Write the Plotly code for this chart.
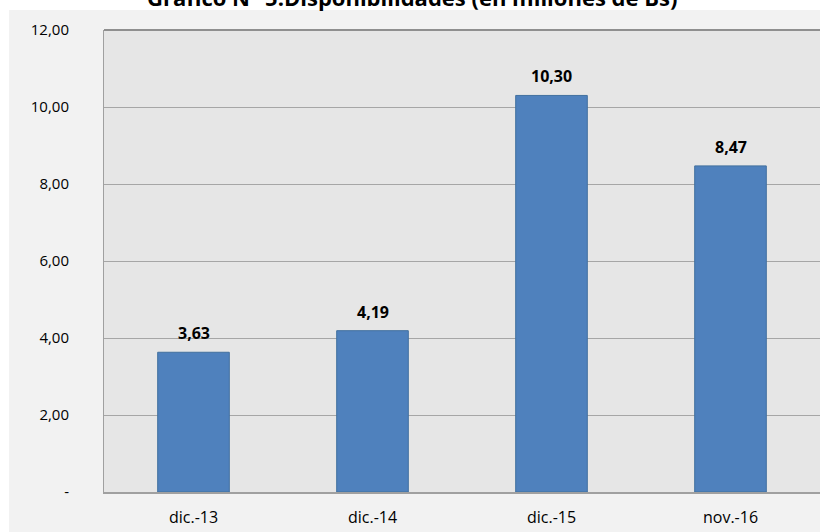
import plotly.graph_objects as go

categories = ["dic.-13", "dic.-14", "dic.-15", "nov.-16"]
values = [3.63, 4.19, 10.30, 8.47]
value_labels = ["3,63", "4,19", "10,30", "8,47"]
tick_vals = [0, 2, 4, 6, 8, 10, 12]
tick_text = ["-", "2,00", "4,00", "6,00", "8,00", "10,00", "12,00"]
title_text = "Gráfico N° 5.Disponibilidades (en millones de Bs)"

font_family = "Open Sans, Noto Sans, sans-serif"

W, H = 825, 532
L, R, T, B = 104, 5, 30, 40
pw = W - L - R
ph = H - T - B


def px_x(px):
    return (px - L) / pw


def px_y(py):
    return (H - B - py) / ph


fig = go.Figure()
fig.add_trace(go.Bar(
    x=categories,
    y=values,
    marker=dict(color="#4f81bd", line=dict(color="#41709f", width=1)),
    width=0.4,
    hoverinfo="skip",
))

annotations = [
    dict(
        x=c, y=v, xref="x", yref="y", text="<b>" + t + "</b>",
        showarrow=False, yanchor="middle", yshift=19,
        font=dict(family=font_family, size=16, color="#000000"),
    )
    for c, v, t in zip(categories, values, value_labels)
]
annotations.append(dict(
    text="<b>" + title_text + "</b>",
    xref="paper", yref="paper",
    x=px_x(412), y=px_y(-3),
    xanchor="center", yanchor="middle",
    showarrow=False,
    font=dict(family=font_family, size=22, color="#000000"),
))

shapes = [
    dict(type="rect", xref="paper", yref="paper", layer="below",
         x0=px_x(9), x1=px_x(820), y0=px_y(H + 5), y1=px_y(10),
         fillcolor="#f2f2f2", line=dict(width=0)),
    dict(type="rect", xref="paper", yref="paper", layer="below",
         x0=0, x1=1, y0=0, y1=1,
         fillcolor="#e6e6e6", line=dict(width=0)),
    dict(type="line", xref="paper", yref="paper", layer="above",
         x0=0, x1=1, y0=1, y1=1,
         line=dict(color="#8f8f8f", width=2)),
]

fig.update_layout(
    width=W,
    height=H,
    margin=dict(l=L, r=R, t=T, b=B, autoexpand=False),
    paper_bgcolor="#ffffff",
    plot_bgcolor="#e6e6e6",
    showlegend=False,
    hovermode=False,
    font=dict(family=font_family, size=15, color="#000000"),
    xaxis=dict(
        showgrid=False,
        showline=True,
        linecolor="#a0a0a0",
        linewidth=2,
        ticks="",
        ticklabelstandoff=10,
        tickfont=dict(family=font_family, size=16, color="#000000"),
        fixedrange=True,
    ),
    yaxis=dict(
        range=[0, 12],
        tickvals=tick_vals,
        ticktext=tick_text,
        showgrid=True,
        gridcolor="#a6a6a6",
        gridwidth=1,
        showline=True,
        linecolor="#a0a0a0",
        linewidth=1,
        zeroline=False,
        ticks="",
        ticklabelstandoff=31,
        tickfont=dict(family=font_family, size=15, color="#000000"),
        fixedrange=True,
    ),
    annotations=annotations,
    shapes=shapes,
)

fig.write_html("out.html", config={"displayModeBar": False},
               post_script="document.body.style.margin='0px';")
